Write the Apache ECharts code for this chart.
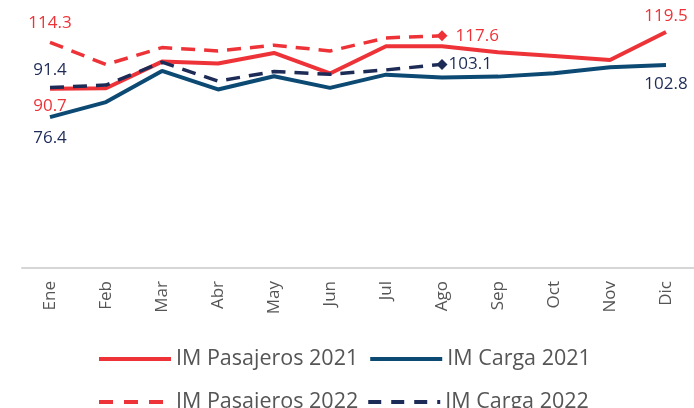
<!DOCTYPE html>
<html><head><meta charset="utf-8">
<script src="https://cdn.jsdelivr.net/npm/echarts@6/dist/echarts.min.js"></script>
<style>html,body{margin:0;padding:0;background:#fff}#c{width:694px;height:408px}</style>
</head><body><div id="c"></div>
<script>
const categories = ['Ene','Feb','Mar','Abr','May','Jun','Jul','Ago','Sep','Oct','Nov','Dic'];
const pasajeros2021 = [90.7, 91.0, 104.5, 103.5, 108.9, 98.5, 112.3, 112.3, 109.2, 107.3, 105.3, 119.5];
const carga2021 = [76.4, 84.0, 99.8, 90.4, 97.1, 91.2, 97.9, 96.5, 96.9, 98.6, 101.7, 102.8];
const pasajeros2022 = [114.3, 103.0, 111.6, 109.9, 112.8, 109.9, 116.5, 117.6];
const carga2022 = [91.4, 92.6, 104.2, 94.6, 99.5, 98.1, 100.3, 103.1];

const RED = '#ee3338', NAVY = '#0c4a74', DNAVY = '#1d2b57';
const FONT = 'Open Sans';
const CLEAR = 'rgba(0,0,0,0)';

function lbl(color, extra) {
  return Object.assign({show: true, color: color, fontSize: 17, fontFamily: FONT, formatter: p => p.value.toFixed(1)}, extra);
}
function build(arr, labels, diamondLast, color) {
  return arr.map((v, i) => {
    const item = {value: v};
    if (labels[i]) item.label = labels[i];
    if (diamondLast && i === arr.length - 1) {
      item.symbol = 'diamond'; item.symbolSize = 11; item.itemStyle = {color: color};
    }
    return item;
  });
}
function series(name, color, width, dashed, labels, arr, diamond) {
  return {
    name: name, type: 'line', symbol: 'circle', symbolSize: 2, showSymbol: true, color: color,
    lineStyle: {width: width, color: color, type: dashed ? [14, 9] : 'solid'},
    itemStyle: {color: CLEAR},
    labelLayout: {hideOverlap: false},
    data: build(arr, labels, diamond, color)
  };
}

const chart = echarts.init(document.getElementById('c'));
const legendText = {fontSize: 21.5, color: '#555', fontFamily: FONT};
chart.setOption({
  animation: false,
  grid: {left: 22, right: 0, top: 31, height: 237},
  xAxis: {
    type: 'category', data: categories, boundaryGap: true,
    axisLine: {lineStyle: {color: '#d6d6d6', width: 2}},
    axisTick: {show: false},
    axisLabel: {rotate: 90, color: '#555', fontSize: 17, fontFamily: FONT, margin: 13}
  },
  yAxis: {type: 'value', min: 0, max: 120, show: false, splitLine: {show: false}},
  legend: [
    {top: 343, left: 92, itemWidth: 72, itemHeight: 20, itemGap: 10, textStyle: legendText,
     lineStyle: {width: 4}, data: ['IM Pasajeros 2021', 'IM Carga 2021']},
    {top: 386, left: 92, itemWidth: 72, itemHeight: 20, itemGap: 8, textStyle: legendText,
     lineStyle: {width: 4},
     data: [{name: 'IM Pasajeros 2022', lineStyle: {type: [14, 11]}},
            {name: 'IM Carga 2022', lineStyle: {type: [13, 10]}}]}
  ],
  series: [
    series('IM Pasajeros 2021', RED, 4, false,
      {0: lbl(RED, {position: 'bottom', offset: [-7, 0], distance: 8}), 11: lbl(RED, {position: 'top', distance: 6})}, pasajeros2021, false),
    series('IM Carga 2021', NAVY, 4, false,
      {0: lbl(DNAVY, {position: 'bottom', offset: [-2, 0], distance: 12}), 11: lbl(DNAVY, {position: 'bottom', distance: 10})}, carga2021, false),
    series('IM Pasajeros 2022', RED, 3.5, true,
      {0: lbl(RED, {position: 'top', offset: [-18, 0], distance: 10}), 7: lbl(RED, {position: 'right', distance: 8})}, pasajeros2022, true),
    series('IM Carga 2022', DNAVY, 3.5, true,
      {0: lbl(DNAVY, {position: 'top', offset: [-16, 0], distance: 8}), 7: lbl(DNAVY, {position: 'right', distance: 1})}, carga2022, true)
  ]
});
</script></body></html>
